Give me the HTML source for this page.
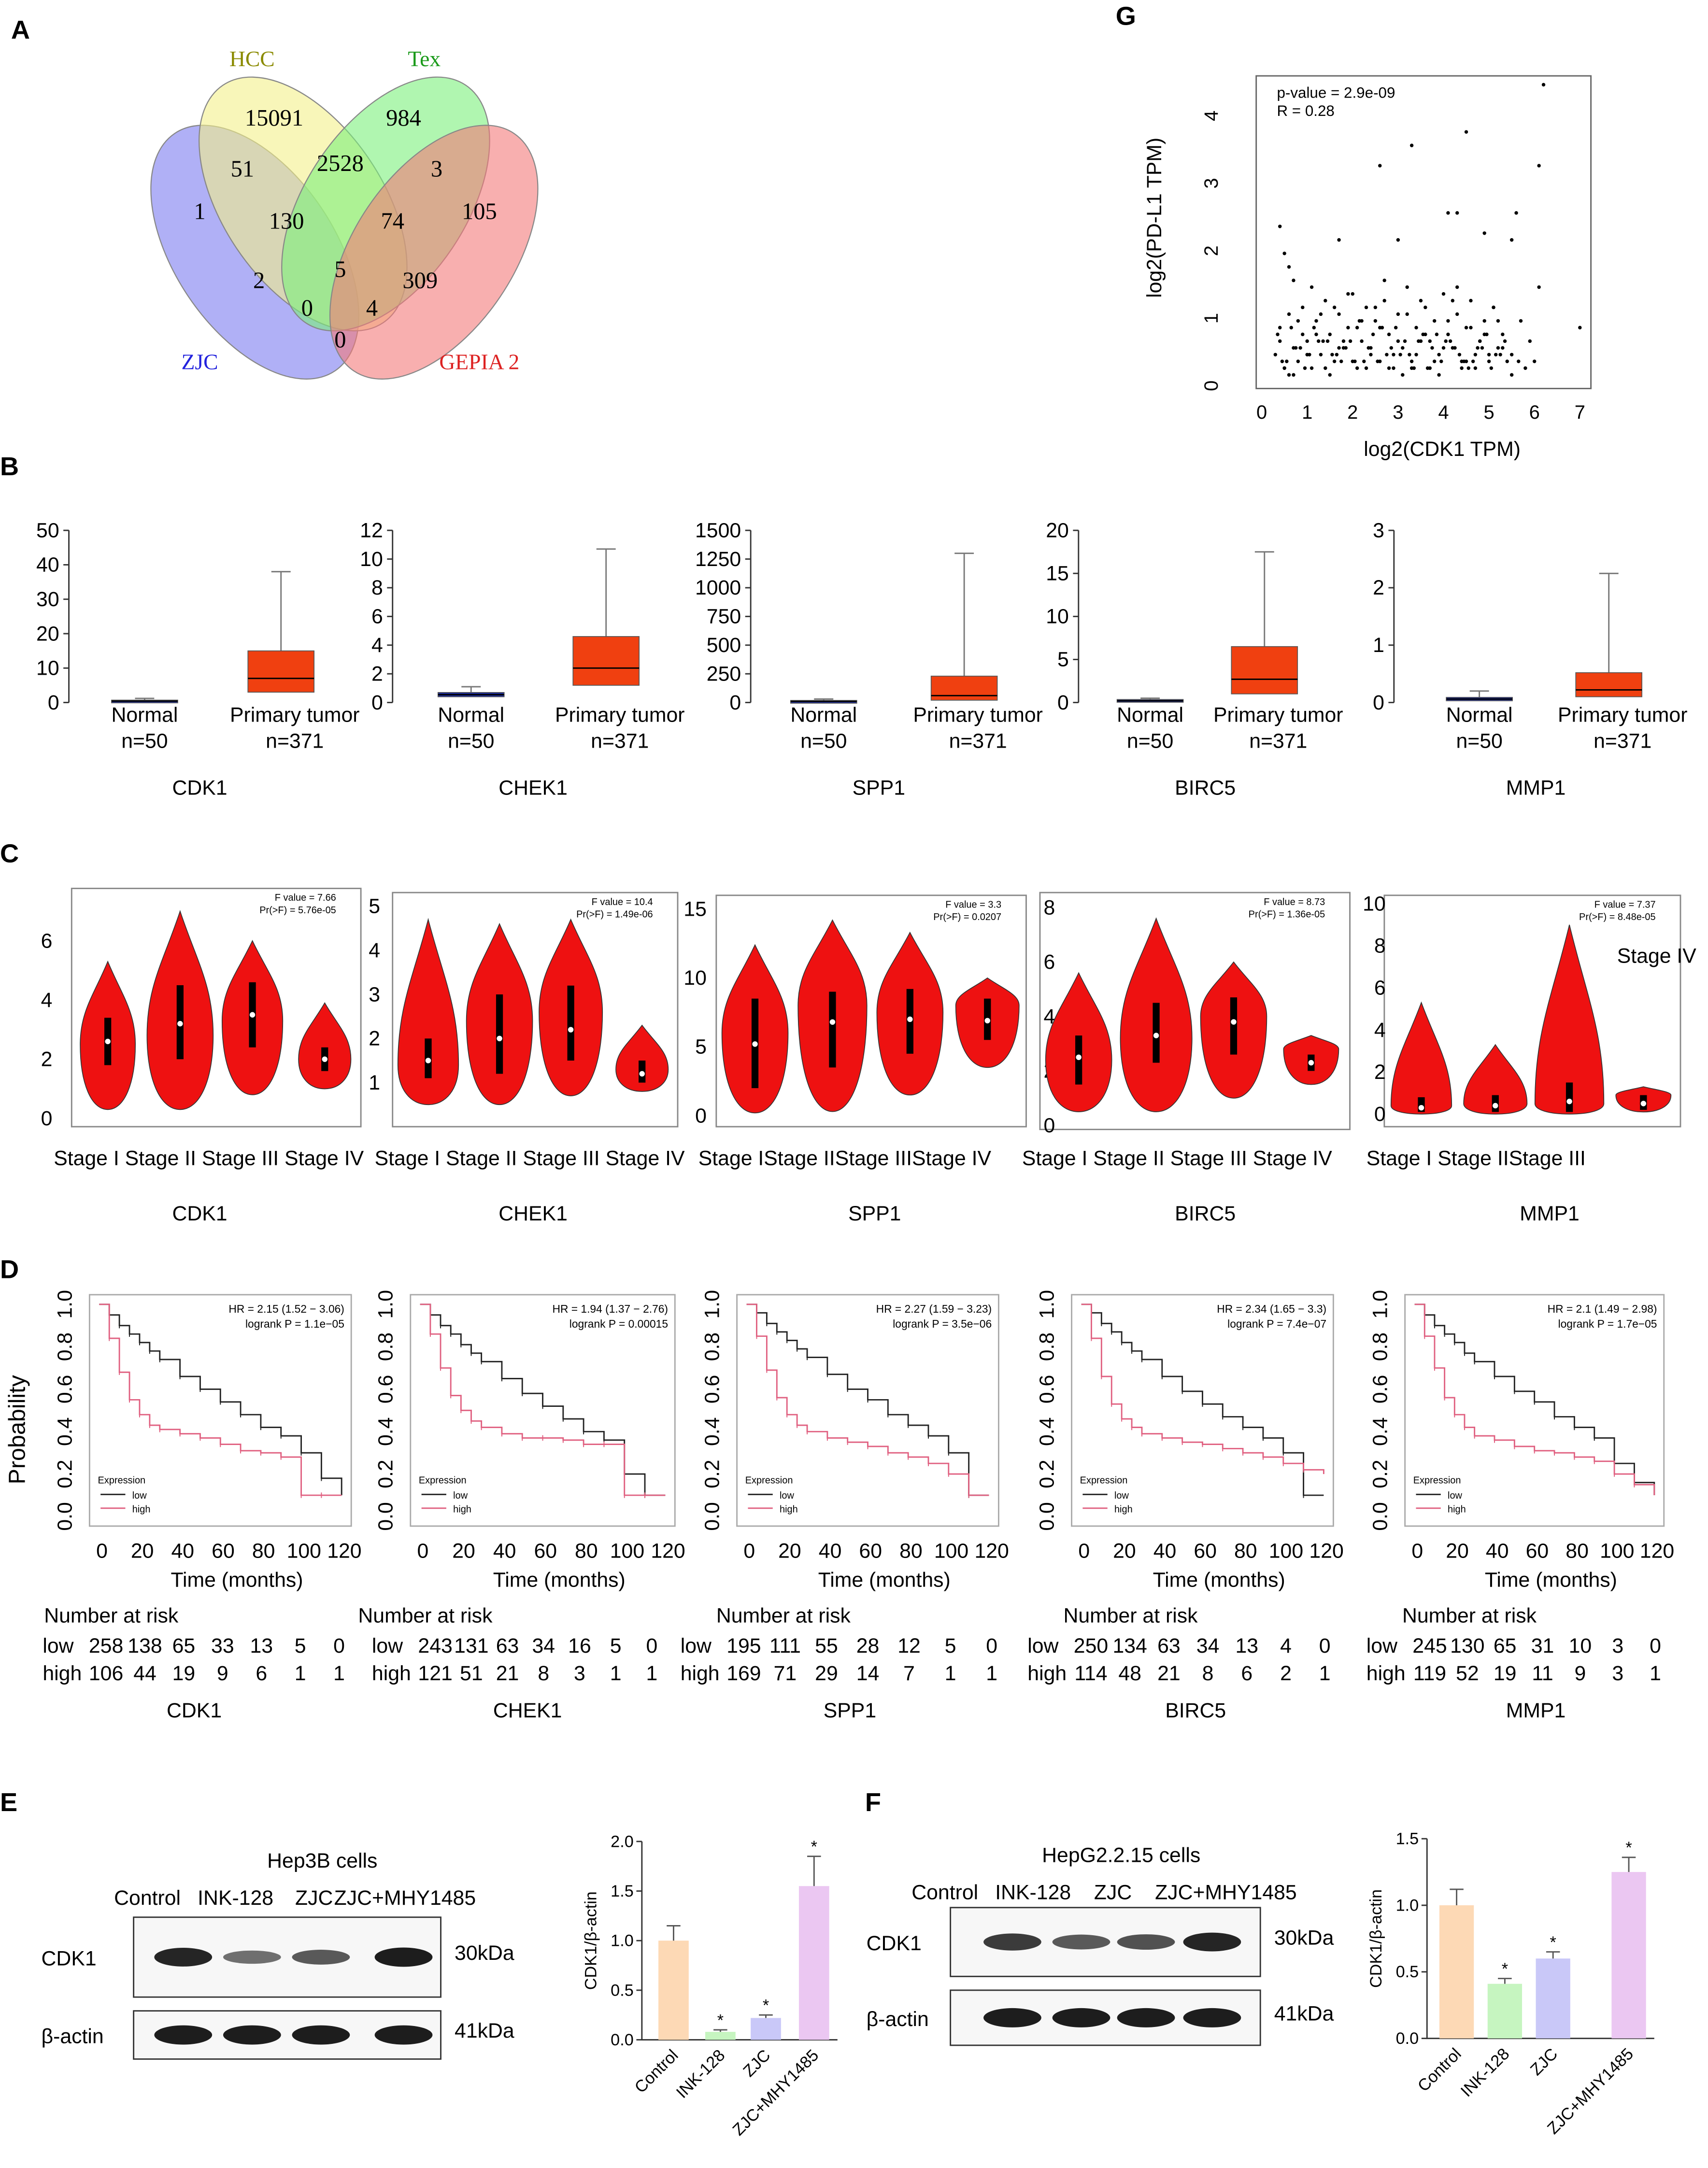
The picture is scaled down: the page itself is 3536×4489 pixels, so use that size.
<!DOCTYPE html>
<html><head><meta charset="utf-8"><style>
html,body{margin:0;padding:0;background:#fff}
svg{display:block}
text{font-family:"Liberation Sans",sans-serif}
.serif{font-family:"Liberation Serif",serif}
</style></head><body>
<svg id="fig" xmlns="http://www.w3.org/2000/svg" width="3536" height="4489" viewBox="0 0 1240 1574"></svg>
<script>
// ---------- DATA ----------
const vennCounts=[15091,984,51,2528,3,1,130,74,105,5,2,309,0,4,0];
const vennSets=["HCC","Tex","ZJC","GEPIA 2"];
const scatterX=[6.2,6.1,3.3,4.5,2.6,4.1,4.3,4.9,5.6,5.5,1.7,0.4,0.5,0.6,0.7,3.0,7.0,6.1,0.3,0.4,0.5,0.6,0.7,0.8,0.9,1.0,1.1,1.2,1.3,1.4,1.5,1.6,1.7,1.8,1.9,2.0,2.1,2.2,2.3,2.4,2.5,2.6,2.7,2.8,2.9,3.0,3.1,3.2,3.3,3.4,3.5,3.6,3.7,3.8,3.9,4.0,4.1,4.2,4.3,4.4,4.5,4.6,4.7,4.8,4.9,5.0,5.1,5.2,5.3,5.5,5.7,5.9,0.4,0.6,0.8,1.0,1.2,1.4,1.6,1.8,2.0,2.2,2.4,2.6,2.8,3.0,3.2,3.4,3.6,3.8,4.0,4.2,4.4,4.6,4.8,5.0,5.2,5.4,0.5,0.9,1.3,1.7,2.1,2.5,2.9,3.3,3.7,4.1,4.5,4.9,5.3,5.8,1.1,1.9,2.7,3.5,4.3,5.1,0.7,1.5,2.3,3.1,3.9,4.7,5.5,6.0,0.35,0.55,0.75,0.95,1.15,1.35,1.55,1.75,1.95,2.15,2.35,2.55,2.75,2.95,3.15,3.35,3.55,3.75,3.95,4.15,4.35,4.55,4.75,4.95,5.15,5.35,5.65,0.45,0.85,1.25,1.65,2.05,2.45,2.85,3.25,3.65,4.05,4.45,4.85,5.25,0.65,1.05,1.45,1.85,2.25,2.65,3.05,3.45,3.85,4.25,4.65,5.05];
const scatterY=[4.4,3.2,3.5,3.7,3.2,2.5,2.5,2.2,2.5,2.1,2.1,2.3,1.9,1.7,1.5,2.1,0.8,1.4,0.4,0.8,0.2,1.0,0.5,0.3,1.1,0.6,0.2,0.9,0.4,1.2,0.7,0.3,1.0,0.5,0.8,1.3,0.2,0.6,1.1,0.4,0.9,0.3,1.2,0.7,0.2,1.0,0.5,1.4,0.3,0.8,0.6,1.1,0.2,0.9,0.4,1.3,0.7,0.5,1.0,0.3,0.8,1.2,0.4,0.6,0.9,0.3,1.1,0.5,0.7,0.4,0.9,0.6,0.6,0.1,0.9,0.4,0.7,0.2,1.1,0.6,0.3,0.9,0.5,0.8,0.2,0.6,1.0,0.4,0.7,0.3,0.5,1.2,0.2,0.8,0.6,0.4,0.9,0.3,0.2,0.7,1.0,0.5,0.8,1.1,0.4,0.2,0.6,0.9,0.3,0.7,0.5,0.2,1.4,1.3,1.5,1.2,1.4,1.1,0.1,0.1,0.2,0.1,0.1,0.2,0.1,0.3,0.7,0.3,0.5,0.2,0.8,0.6,0.4,0.3,0.6,0.9,0.5,0.3,0.4,0.8,0.6,0.2,0.7,0.5,0.3,0.6,0.4,0.2,0.5,0.7,0.4,0.6,0.3,0.3,0.5,0.6,0.4,0.3,0.7,0.5,0.4,0.2,0.6,0.3,0.5,0.4,0.8,0.4,0.6,0.5,0.3,0.8,0.4,0.6,0.7,0.5,0.3,0.2];
const genes=["CDK1","CHEK1","SPP1","BIRC5","MMP1"];
const boxNormal=[[0.2,0.4,0.7,1.2],[0.4,0.55,0.7,1.1],[5,10,18,30],[0.1,0.2,0.35,0.5],[0.03,0.06,0.09,0.2]];
const boxTumor=[[3,7,15,38],[1.2,2.4,4.6,10.7],[20,60,230,1300],[1,2.7,6.5,17.5],[0.1,0.22,0.52,2.25]];
const boxTicks=[[0,10,20,30,40,50],[0,2,4,6,8,10,12],[0,250,500,750,1000,1250,1500],[0,5,10,15,20],[0,1,2,3]];
const violinStages=["Stage I","Stage II","Stage III","Stage IV"];
const violinCDK1=[[0.3,5.3,2.6,1.8,3.4,2.5,20],[0.3,7.0,3.2,2.0,4.5,2.8,24],[0.8,6.0,3.5,2.4,4.6,3.3,22],[1.0,3.9,2.0,1.6,2.4,2.0,19]];
const violinCHEK1=[[0.5,4.7,1.5,1.1,2.0,1.4,22],[0.5,4.6,2.0,1.2,3.0,2.4,24],[0.7,4.7,2.2,1.5,3.2,2.6,23],[0.8,2.3,1.2,1.0,1.5,1.3,19]];
const violinSPP1=[[0.2,12.4,5.2,2.0,8.5,6.0,24],[0.3,14.2,6.8,3.5,9.0,8.0,25],[1.5,13.3,7.0,4.5,9.2,7.5,24],[3.5,10.0,6.9,5.5,8.5,8.0,23]];
const violinBIRC5=[[0.5,5.6,2.5,1.5,3.3,2.4,24],[0.5,7.6,3.3,2.3,4.5,3.2,26],[1.0,6.0,3.8,2.6,4.7,4.0,24],[1.5,3.3,2.3,2.0,2.6,2.8,20]];
const violinMMP1=[[0.0,5.3,0.3,0.1,0.8,0.4,22],[0.0,3.3,0.4,0.1,0.9,0.5,23],[0.0,9.0,0.6,0.1,1.5,0.5,25],[0.1,1.3,0.5,0.2,0.9,0.9,20]];
const violinTicks=[[0,2,4,6],[1,2,3,4,5],[0,5,10,15],[0,2,4,6,8],[0,2,4,6,8,10]];
const violinMax=[7.77,5.31,16,8.55,10.4];
const violinMin=[-0.28,0,-0.8,-0.15,-0.6];
const fText=[["F value = 7.66","Pr(>F) = 5.76e-05"],["F value = 10.4","Pr(>F) = 1.49e-06"],["F value = 3.3","Pr(>F) = 0.0207"],["F value = 8.73","Pr(>F) = 1.36e-05"],["F value = 7.37","Pr(>F) = 8.48e-05"]];
const kmTimes=[0,5,10,15,20,25,30,40,50,60,70,80,90,100,110,120];
const kmLow=[[1,.95,.9,.86,.82,.78,.74,.66,.6,.54,.48,.42,.38,.3,.18,.1],[1,.95,.9,.86,.81,.77,.73,.65,.58,.52,.46,.4,.36,.2,.1,.1],[1,.96,.91,.87,.83,.79,.75,.67,.6,.55,.48,.43,.38,.3,.1,.1],[1,.96,.91,.87,.82,.78,.74,.66,.59,.53,.47,.42,.37,.3,.1,.1],[1,.95,.9,.86,.82,.77,.73,.66,.59,.54,.47,.42,.37,.25,.16,.1]];
const kmHigh=[[1,.84,.68,.55,.48,.43,.41,.39,.37,.34,.31,.3,.28,.1,.1,.1],[1,.86,.7,.57,.5,.45,.42,.39,.37,.37,.36,.34,.34,.1,.1,.1],[1,.85,.69,.56,.48,.43,.4,.37,.35,.33,.3,.28,.25,.2,.1,.1],[1,.84,.66,.53,.46,.42,.39,.37,.35,.34,.32,.3,.28,.25,.22,.2],[1,.85,.7,.56,.48,.42,.38,.36,.33,.31,.3,.28,.26,.2,.15,.1]];
const hrText=[["HR = 2.15 (1.52 − 3.06)","logrank P = 1.1e−05"],["HR = 1.94 (1.37 − 2.76)","logrank P = 0.00015"],["HR = 2.27 (1.59 − 3.23)","logrank P = 3.5e−06"],["HR = 2.34 (1.65 − 3.3)","logrank P = 7.4e−07"],["HR = 2.1 (1.49 − 2.98)","logrank P = 1.7e−05"]];
const riskLow=[[258,138,65,33,13,5,0],[243,131,63,34,16,5,0],[195,111,55,28,12,5,0],[250,134,63,34,13,4,0],[245,130,65,31,10,3,0]];
const riskHigh=[[106,44,19,9,6,1,1],[121,51,21,8,3,1,1],[169,71,29,14,7,1,1],[114,48,21,8,6,2,1],[119,52,19,11,9,3,1]];
const kmXTicks=[0,20,40,60,80,100,120];
const kmYTicks=[0,0.2,0.4,0.6,0.8,1.0];
const groups=["Control","INK-128","ZJC","ZJC+MHY1485"];
const barE=[1.0,0.08,0.22,1.55];
const errE=[0.15,0.02,0.03,0.3];
const barF=[1.0,0.41,0.6,1.25];
const errF=[0.12,0.04,0.05,0.11];
const bandE=[0.95,0.45,0.6,1.0];
const bandF=[0.8,0.6,0.65,0.95];
const barTicksE=[0,0.5,1.0,1.5,2.0];
const barTicksF=[0,0.5,1.0,1.5];

// ---------- HELPERS ----------
const NS="http://www.w3.org/2000/svg";
const svg=document.getElementById('fig');
function mk(tag,parent){const e=document.createElementNS(NS,tag);(parent||svg).appendChild(e);return e;}
function sa(e,o){for(const k in o)e.setAttribute(k,o[k]);return e;}
function txt(parent,x,y,s,size,extra){const t=mk('text',parent);sa(t,{x:x,y:y,'font-size':size});if(extra)sa(t,extra);t.textContent=s;return t;}
function grp(){return mk('g');}

[["A",8,28],["B",0,345],["C",0,626],["D",0,928],["E",0,1315],["F",628,1315],["G",810,18]].forEach(p=>{
 const t=txt(svg,p[1],p[2],p[0],19,{'font-weight':'bold'});
 
 
});

// ---------- A: Venn ----------
{
 const g=grp();
 
 
 const ells=[[185,183,56,'#7b7bf0'],[220,148,56,'#f4f08a'],[280,148,-56,'#7cf07c'],[315,183,-56,'#f47a7a']];
 ells.forEach((c,i)=>{const e=mk('ellipse',g);sa(e,{cx:c[0],cy:c[1],rx:104,ry:58,transform:`rotate(${c[2]} ${c[0]} ${c[1]})`,fill:c[3],'fill-opacity':0.6,stroke:'#888','stroke-width':0.8});
  
  });
 const pos=[[199,91],[293,91],[176,128],[247,124],[317,128],[145,159],[208,166],[285,166],[348,159],[247,201],[188,209],[305,209],[223,229],[270,229],[247,252]];
 vennCounts.forEach((v,i)=>{const t=txt(g,pos[i][0],pos[i][1],v,17,{'text-anchor':'middle','class':'serif'});
  
  });
 const lab=[[183,48,'#8a8a00'],[308,48,'#1a9a1a'],[145,268,'#2222dd'],[348,268,'#dd2222']];
 vennSets.forEach((s,i)=>{const t=txt(g,lab[i][0],lab[i][1],s,16,{'text-anchor':'middle','class':'serif',fill:lab[i][2]});
  
  });
}

// ---------- G: scatter ----------
{
 const g=grp();
 
 
 const X=v=>916+v*33, Y=v=>277-v*49;
 const r=mk('rect',g);sa(r,{x:912,y:55,width:243,height:227,fill:'none',stroke:'#666','stroke-width':1});
 for(let i=0;i<=7;i++){const t=txt(g,X(i),304,i,14,{'text-anchor':'middle'});}
 for(let i=0;i<=4;i++){const t=txt(g,0,0,i,14,{'text-anchor':'middle',transform:`translate(884,${Y(i)+3}) rotate(-90)`});}
 const xt=txt(g,1047,331,'log2(CDK1 TPM)',15,{'text-anchor':'middle'});
 const yt=txt(g,0,0,'log2(PD-L1 TPM)',15,{'text-anchor':'middle',transform:'translate(843,158) rotate(-90)'});
 const a1=txt(g,927,71,'p-value = 2.9e-09',11);
 const a2=txt(g,927,84,'R = 0.28',11);
 scatterX.forEach((x,i)=>{const c=mk('circle',g);sa(c,{cx:X(x),cy:Y(scatterY[i]),r:1.3,fill:'#000'});
  
  });
}

// ---------- B: box plots ----------
const bAxisX=[50,285,545,783,1012];
const bNormX=[105,342,598,835,1074];
const bTumX=[204,440,700,918,1168];
const bGeneX=[145,387,638,875,1115];
genes.forEach((gn,k)=>{
 const g=grp();
 
 
 const ticks=boxTicks[k], mx=ticks[ticks.length-1];
 const Y=v=>510-v/mx*125;
 const ax=mk('line',g);sa(ax,{x1:bAxisX[k],y1:Y(0),x2:bAxisX[k],y2:Y(mx),stroke:'#333'});
 ticks.forEach(t=>{const l=mk('line',g);sa(l,{x1:bAxisX[k]-4,x2:bAxisX[k],y1:Y(t),y2:Y(t),stroke:'#333'});
  const tt=txt(g,bAxisX[k]-7,Y(t)+5,t,15,{'text-anchor':'end'});});
 [[boxNormal[k],bNormX[k],'#1a2a9a'],[boxTumor[k],bTumX[k],'#f04010']].forEach(b=>{
  const d=b[0],cx=b[1];
  const w=mk('line',g);sa(w,{x1:cx,x2:cx,y1:Y(d[3]),y2:Y(d[2]),stroke:'#777'});
  const cap=mk('line',g);sa(cap,{x1:cx-7,x2:cx+7,y1:Y(d[3]),y2:Y(d[3]),stroke:'#777'});
  const r=mk('rect',g);sa(r,{x:cx-24,y:Y(d[2]),width:48,height:Math.max(2,Y(d[0])-Y(d[2])),fill:b[2],stroke:'#555','stroke-width':0.6});
  
  
  const m=mk('line',g);sa(m,{x1:cx-24,x2:cx+24,y1:Y(d[1]),y2:Y(d[1]),stroke:'#000'});
 });
 [['Normal',bNormX[k]],['Primary tumor',bTumX[k]+10]].forEach((l,j)=>{
  const t1=txt(g,l[1],524,l[0],15,{'text-anchor':'middle'});
  const t2=txt(g,l[1],543,j?'n=371':'n=50',15,{'text-anchor':'middle'});
 });
 const gt=txt(g,bGeneX[k],577,gn,15,{'text-anchor':'middle'});
});

// ---------- C: violins ----------
const vData=[violinCDK1,violinCHEK1,violinSPP1,violinBIRC5,violinMMP1];
const vBox=[[52,645,210,173],[285,648,207,170],[520,650,225,168],[755,648,225,172],[1005,650,215,168]];
const vTickX=[38,276,513,766,1006];
genes.forEach((gn,k)=>{
 const g=grp();
 
 
 const b=vBox[k];
 const fr=mk('rect',g);sa(fr,{x:b[0],y:b[1],width:b[2],height:b[3],fill:'none',stroke:'#888'});
 const Y=v=>b[1]+b[3]-(v-violinMin[k])/(violinMax[k]-violinMin[k])*b[3];
 violinTicks[k].forEach(t=>{const tt=txt(g,vTickX[k],Y(t)+5,t,15,{'text-anchor':'end'});});
 const f1=txt(g,b[0]+b[2]-18,b[1]+9,fText[k][0],7,{'text-anchor':'end'});
 const f2=txt(g,b[0]+b[2]-18,b[1]+18,fText[k][1],7,{'text-anchor':'end'});
 const step=b[2]/4;
 vData[k].forEach((d,i)=>{
  const cx=b[0]+step*(i+0.5);
  const yt=Y(d[1]),yb=Y(d[0]),yp=Y(d[5]),w=d[6];
  const p=`M${cx},${yt} C${cx+w*0.5},${yt+(yp-yt)*0.4} ${cx+w},${yp-(yp-yt)*0.4} ${cx+w},${yp} C${cx+w},${yp+(yb-yp)*0.6} ${cx+w*0.6},${yb} ${cx},${yb} C${cx-w*0.6},${yb} ${cx-w},${yp+(yb-yp)*0.6} ${cx-w},${yp} C${cx-w},${yp-(yp-yt)*0.4} ${cx-w*0.5},${yt+(yp-yt)*0.4} ${cx},${yt}Z`;
  const v=mk('path',g);sa(v,{d:p,fill:'#ee1111',stroke:'#333','stroke-width':0.6});
  
  
  const bx=mk('rect',g);sa(bx,{x:cx-2.5,y:Y(d[4]),width:5,height:Y(d[3])-Y(d[4]),fill:'#000'});
  const m=mk('circle',g);sa(m,{cx:cx,cy:Y(d[2]),r:2,fill:'#fff'});
 });
 const lab=violinStages.join(k===2?'':' ');
 const lt=txt(g,b[0]-13,846,k===4?'Stage I  Stage IIStage III':lab.replace(/Stage I Stage II/,'Stage I  Stage II'),15);
 const gt=txt(g,bGeneX[k]+(k===4?10:0)-(k===2?3:0),886,gn,15,{'text-anchor':'middle'});
});
{const t=txt(svg,1174,699,'Stage IV',15);}

// ---------- D: KM ----------
const kmBox=[[65,940,190,168],[298,940,192,168],[535,940,190,168],[778,940,190,168],[1020,940,188,168]];
const riskOff=[46,46,46,46,46];
const riskSp=[28.2,26.2,30,28.3,27.3];
{const t=txt(svg,0,0,'Probability',17,{transform:'translate(18,1038) rotate(-90)','text-anchor':'middle'});}
genes.forEach((gn,k)=>{
 const g=grp();
 
 
 const b=kmBox[k];
 const fr=mk('rect',g);sa(fr,{x:b[0],y:b[1],width:b[2],height:b[3],fill:'none',stroke:'#aaa'});
 const X=t=>b[0]+7+t/120*(b[2]-14), Y=v=>b[1]+b[3]-7-v*(b[3]-14);
 kmYTicks.forEach(t=>{const tt=txt(g,0,0,t.toFixed(1),15,{'text-anchor':'middle',transform:`translate(${b[0]-13},${Y(t)}) rotate(-90)`});});
 kmXTicks.forEach(t=>{const tt=txt(g,X(t)+2,1131,t,15,{'text-anchor':'middle'});});
 const xt=txt(g,b[0]+b[2]/2+12,1152,'Time (months)',15,{'text-anchor':'middle'});
 [[kmLow[k],'#222'],[kmHigh[k],'#e06080']].forEach(s=>{
  let d=`M${X(kmTimes[0])},${Y(s[0][0])}`;
  for(let i=1;i<kmTimes.length;i++){d+=` H${X(kmTimes[i])} V${Y(s[0][i])}`;}
  const p=mk('path',g);sa(p,{d:d,fill:'none',stroke:s[1],'stroke-width':1});
  
  
  for(let i=1;i<kmTimes.length-1;i++){const c=mk('line',g);sa(c,{x1:X(kmTimes[i]),x2:X(kmTimes[i]),y1:Y(s[0][i])-2,y2:Y(s[0][i])+2,stroke:s[1],'stroke-width':0.7});}
 });
 const h1=txt(g,b[0]+b[2]-5,b[1]+13,hrText[k][0],8,{'text-anchor':'end'});
 const h2=txt(g,b[0]+b[2]-5,b[1]+24,hrText[k][1],8,{'text-anchor':'end'});
 const lg=txt(g,b[0]+6,b[1]+137,'Expression',7);
 [['low','#222',148],['high','#e06080',158]].forEach(l=>{const ln=mk('line',g);sa(ln,{x1:b[0]+8,x2:b[0]+26,y1:b[1]+l[2]-3,y2:b[1]+l[2]-3,stroke:l[1]});
  const lt=txt(g,b[0]+31,b[1]+l[2],l[0],7);});
 const rx0=[32,260,520,772,1018][k];
 const rx1=[31,270,494,746,992][k];
 const rt=txt(g,rx0,1178,'Number at risk',15);
 const lowL=txt(g,rx1,1200,'low',15);
 const hiL=txt(g,rx1,1220,'high',15);
 riskLow[k].forEach((v,i)=>{const t=txt(g,rx1+riskOff[k]+i*riskSp[k],1200,v,15,{'text-anchor':'middle'});});
 riskHigh[k].forEach((v,i)=>{const t=txt(g,rx1+riskOff[k]+i*riskSp[k],1220,v,15,{'text-anchor':'middle'});});
 const gt=txt(g,[141,383,617,868,1115][k],1247,gn,15,{'text-anchor':'middle'});
});

// ---------- E/F: western blots ----------
function blot(cfg){
 const g=grp();
 
 
 const tt=txt(g,cfg.titleX,cfg.titleY,cfg.title,15,{'text-anchor':'middle'});
 groups.forEach((gr,i)=>{const t=txt(g,cfg.lanes[i],cfg.laneY,gr,15,{'text-anchor':'middle'});});
 [[cfg.b1,'CDK1','30kDa',cfg.bands],[cfg.b2,'β-actin','41kDa',[1,1,1,1]]].forEach(r=>{
  const bx=r[0];
  const rc=mk('rect',g);sa(rc,{x:bx[0],y:bx[1],width:bx[2],height:bx[3],fill:'#f7f7f7',stroke:'#333'});
  
  
  r[3].forEach((v,i)=>{const e=mk('ellipse',g);sa(e,{cx:cfg.bandX[i],cy:bx[1]+bx[3]/2,rx:21,ry:3+4*v,fill:'#111','fill-opacity':0.3+0.65*v});
   
   });
  const l=txt(g,cfg.labX,bx[1]+bx[3]/2+6,r[1],15);
  const s=txt(g,bx[0]+bx[2]+10,bx[1]+bx[3]/2+2,r[2],15);
 });
}
blot({name:'western-blot-hep3b',title:'Hep3B cells',titleX:234,titleY:1356,lanes:[107,171,228,294],bandX:[133,183,233,293],laneY:1383,b1:[97,1392,223,58],b2:[97,1460,223,35],bands:bandE,labX:30});
blot({name:'western-blot-hepg2',title:'HepG2.2.15 cells',titleX:814,titleY:1352,lanes:[686,750,808,890],bandX:[735,785,832,880],laneY:1379,b1:[690,1385,225,50],b2:[690,1445,225,40],bands:bandF,labX:629});

function bars(cfg){
 const g=grp();
 
 
 const mx=cfg.ticks[cfg.ticks.length-1];
 const Y=v=>cfg.y0-v/mx*(cfg.y0-cfg.yTop);
 const ax=mk('path',g);sa(ax,{d:`M${cfg.ax},${cfg.yTop} V${cfg.y0} H${cfg.xs[3]+cfg.bw+6}`,fill:'none',stroke:'#333'});
 cfg.ticks.forEach(t=>{const l=mk('line',g);sa(l,{x1:cfg.ax-4,x2:cfg.ax,y1:Y(t),y2:Y(t),stroke:'#333'});
  const tt=txt(g,cfg.ax-6,Y(t)+4,t.toFixed(1),12,{'text-anchor':'end'});});
 const yt=txt(g,0,0,'CDK1/β-actin',12,{'text-anchor':'middle',transform:`translate(${cfg.ax-33},${(cfg.y0+cfg.yTop)/2}) rotate(-90)`});
 const cols=['#fdd9b5','#c6f5c0','#c9c8f8','#ebc7f2'];
 cfg.vals.forEach((v,i)=>{
  const x=cfg.xs[i];
  const r=mk('rect',g);sa(r,{x:x,y:Y(v),width:cfg.bw,height:cfg.y0-Y(v),fill:cols[i]});
  
  
  const e=mk('path',g);sa(e,{d:`M${x+cfg.bw/2},${Y(v)} V${Y(v+cfg.err[i])} M${x+cfg.bw/2-5},${Y(v+cfg.err[i])} H${x+cfg.bw/2+5}`,stroke:'#555',fill:'none'});
  
  
  if(i>0){const s=txt(g,x+cfg.bw/2,Y(v+cfg.err[i])-3,'*',12,{'text-anchor':'middle'});}
  const lb=txt(g,0,0,groups[i],12,{'text-anchor':'end',transform:`translate(${x+cfg.bw/2+4},${cfg.y0+12}) rotate(-45)`});
 });
}
bars({name:'bar-chart-hep3b',ticks:barTicksE,vals:barE,err:errE,ax:466,y0:1481,yTop:1337,xs:[478,512,545,580],bw:22});
bars({name:'bar-chart-hepg2',ticks:barTicksF,vals:barF,err:errF,ax:1036,y0:1480,yTop:1335,xs:[1045,1080,1115,1170],bw:25});
</script>
</body></html>
